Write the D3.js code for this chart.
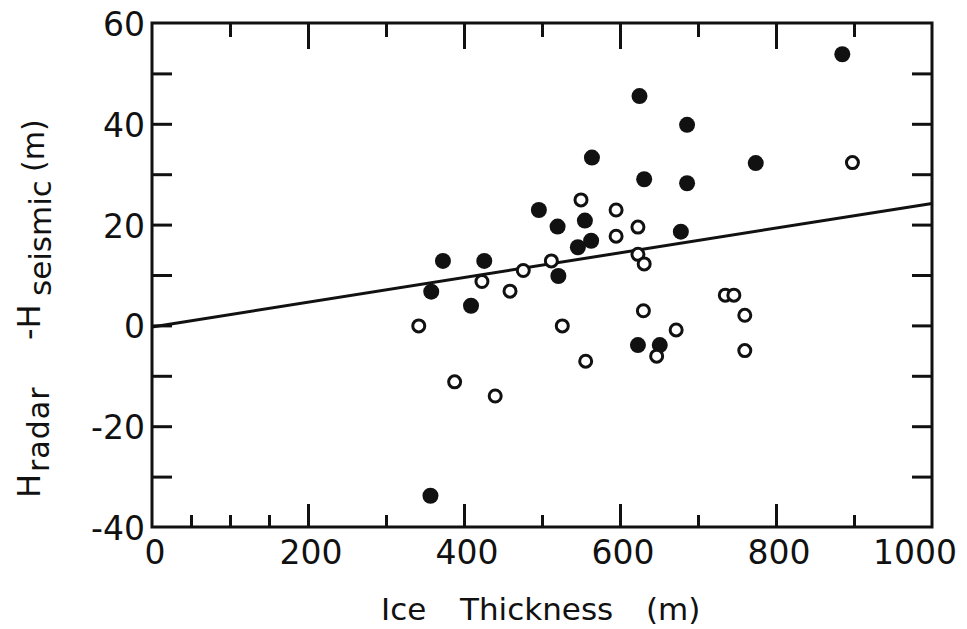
<!DOCTYPE html>
<html>
<head>
<meta charset="utf-8">
<script src="https://cdn.jsdelivr.net/npm/d3@7"></script>
<style>
  body { margin: 0; background: #fff; }
  svg { display: block; font-family: "DejaVu Sans", sans-serif; }
</style>
</head>
<body>
<svg width="967" height="629"></svg>
<script>
// filled circles
var filledX = [885, 625, 686, 564, 774, 631, 686, 496, 520, 555, 678, 563, 546, 521, 373, 426, 358, 409, 623, 651, 357];
var filledY = [53.8, 45.5, 39.8, 33.3, 32.2, 29.0, 28.2, 22.9, 19.6, 20.8, 18.6, 16.8, 15.5, 9.8, 12.8, 12.8, 6.7, 3.9, -3.9, -3.9, -33.8];

// open circles
var openX = [898, 550, 595, 623, 595, 623, 631, 512, 476, 423, 459, 735, 746, 630, 760, 342, 526, 672, 647, 760, 556, 388, 440];
var openY = [32.3, 24.9, 22.9, 19.5, 17.7, 14.1, 12.2, 12.8, 10.9, 8.7, 6.8, 6.0, 6.0, 2.9, 2.0, -0.1, -0.1, -0.9, -6.1, -5.0, -7.1, -11.2, -14.0];

// fitted line end points
var lineX = [0, 1000];
var lineY = [-0.3, 24.2];

var xLabels = [0, 200, 400, 600, 800, 1000];
var yLabels = [60, 40, 20, 0, -20, -40];
var xMajorTicks = [200, 400, 600, 800];
var xMinorBottom = [50, 100, 150, 300, 500, 700, 900];
var xMinorTop = [100, 300, 500, 700, 900];
var yTicks = [50, 40, 30, 20, 10, 0, -10, -20, -30];

var svg = d3.select('svg');
var ink = '#111';

var x = d3.scaleLinear().domain([0, 1000]).range([152, 932]);
var y = d3.scaleLinear().domain([-40, 60]).range([527, 23]);

function styleAxis(g) {
  g.select('.domain').remove();
  g.selectAll('.tick line').attr('stroke', ink).attr('stroke-width', 3);
}

// bottom ticks
svg.append('g').attr('transform', 'translate(0,' + y(-40) + ')')
  .call(d3.axisBottom(x).tickValues(xMinorBottom).tickSize(-12).tickFormat(''))
  .call(styleAxis);
svg.append('g').attr('transform', 'translate(0,' + y(-40) + ')')
  .call(d3.axisBottom(x).tickValues(xMajorTicks).tickSize(-23).tickFormat(''))
  .call(styleAxis);

// top ticks
svg.append('g').attr('transform', 'translate(0,' + y(60) + ')')
  .call(d3.axisTop(x).tickValues(xMinorTop).tickSize(-14).tickFormat(''))
  .call(styleAxis);
svg.append('g').attr('transform', 'translate(0,' + y(60) + ')')
  .call(d3.axisTop(x).tickValues(xMajorTicks).tickSize(-26).tickFormat(''))
  .call(styleAxis);

// left / right ticks
svg.append('g').attr('transform', 'translate(' + x(0) + ',0)')
  .call(d3.axisLeft(y).tickValues(yTicks).tickSize(-20).tickFormat(''))
  .call(styleAxis);
svg.append('g').attr('transform', 'translate(' + x(1000) + ',0)')
  .call(d3.axisRight(y).tickValues(yTicks).tickSize(-20).tickFormat(''))
  .call(styleAxis);

// frame
svg.append('rect')
  .attr('x', x(0)).attr('y', y(60))
  .attr('width', x(1000) - x(0)).attr('height', y(-40) - y(60))
  .attr('fill', 'none').attr('stroke', ink).attr('stroke-width', 3);

// tick labels
svg.selectAll('.xlab').data(xLabels).enter().append('text')
  .attr('class', 'xlab')
  .attr('x', function(d) { return d === 1000 ? x(d) + 25 : x(d) + 3; })
  .attr('y', 564)
  .attr('text-anchor', function(d) { return d === 1000 ? 'end' : 'middle'; })
  .attr('font-size', 33)
  .attr('fill', ink)
  .text(function(d) { return d; });

svg.selectAll('.ylab').data(yLabels).enter().append('text')
  .attr('class', 'ylab')
  .attr('x', 145)
  .attr('y', function(d) { return y(d) + 13; })
  .attr('text-anchor', 'end')
  .attr('font-size', 33)
  .attr('fill', ink)
  .text(function(d) { return d < 0 ? '-' + Math.abs(d) : d; });

// fitted line
var lineData = lineX.map(function(d, i) { return [d, lineY[i]]; });
svg.append('path')
  .datum(lineData)
  .attr('d', d3.line().x(function(d) { return x(d[0]); }).y(function(d) { return y(d[1]); }))
  .attr('stroke', ink).attr('stroke-width', 3).attr('fill', 'none');

// points
svg.selectAll('.filled').data(filledX).enter().append('circle')
  .attr('class', 'filled')
  .attr('cx', function(d) { return x(d); })
  .attr('cy', function(d, i) { return y(filledY[i]); })
  .attr('r', 8)
  .attr('fill', ink);

svg.selectAll('.open').data(openX).enter().append('circle')
  .attr('class', 'open')
  .attr('cx', function(d) { return x(d); })
  .attr('cy', function(d, i) { return y(openY[i]); })
  .attr('r', 6)
  .attr('fill', '#fff')
  .attr('stroke', ink)
  .attr('stroke-width', 3);

// x title
var xTitle = [
  { text: 'Ice', x: 381 },
  { text: 'Thickness', x: 460 },
  { text: '(m)', x: 646 }
];
svg.selectAll('.xtitle').data(xTitle).enter().append('text')
  .attr('class', 'xtitle')
  .attr('x', function(d) { return d.x; })
  .attr('y', 620)
  .attr('font-size', 31)
  .attr('fill', ink)
  .text(function(d) { return d.text; });

// y title (rotated, pieces with subscripts)
var yTitle = [
  { text: 'H', x: 40, y: 498, size: 32, ls: 0 },
  { text: 'radar', x: 49, y: 472, size: 30, ls: 1 },
  { text: '-H', x: 40, y: 340, size: 32, ls: 0 },
  { text: 'seismic', x: 51, y: 296, size: 31, ls: 0 },
  { text: '(m)', x: 44, y: 172, size: 30, ls: 0 }
];
svg.selectAll('.ytitle').data(yTitle).enter().append('text')
  .attr('class', 'ytitle')
  .attr('transform', function(d) { return 'translate(' + d.x + ',' + d.y + ') rotate(-90)'; })
  .attr('font-size', function(d) { return d.size; })
  .attr('letter-spacing', function(d) { return d.ls; })
  .attr('fill', ink)
  .text(function(d) { return d.text; });
</script>
</body>
</html>
